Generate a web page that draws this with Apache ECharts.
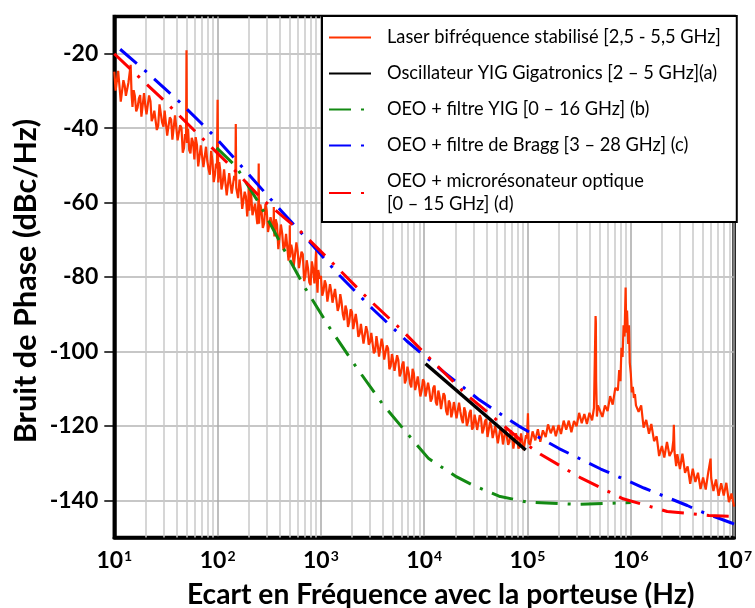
<!DOCTYPE html>
<html><head><meta charset="utf-8">
<script src="https://cdn.jsdelivr.net/npm/echarts@6/dist/echarts.min.js"></script>
<style>html,body{margin:0;padding:0;background:#fff}#c{width:755px;height:608px}</style>
</head><body><div id="c"></div>
<script>
// ---------- DATA ----------
const seriesNames = [
  'Laser bifréquence stabilisé [2,5 - 5,5 GHz]',
  'Oscillateur YIG Gigatronics [2 – 5 GHz](a)',
  'OEO + filtre YIG [0 – 16 GHz] (b)',
  'OEO + filtre de Bragg [3 – 28 GHz] (c)',
  'OEO + microrésonateur optique\n[0 – 15 GHz] (d)'
];
const xTitle = 'Ecart en Fréquence avec la porteuse (Hz)';
const yTitle = 'Bruit de Phase (dBc/Hz)';
const xDecades = [10, 100, 1e3, 1e4, 1e5, 1e6, 1e7];
const minorMultipliers = [2, 3, 4, 5, 6, 7, 8, 9];
const yTickValues = [-140, -120, -100, -80, -60, -40, -20];

// Laser bifréquence stabilisé (measured, noisy) [Hz, dBc/Hz]
const laser = [
 [10,-24.8],[10.3,-29.9],[10.6,-30.4],[10.9,-24.6],[11.2,-28.4],[11.55,-32.9],[11.9,-32.7],[12.25,-27.1],[12.6,-28.5],[12.95,-31.3],
 [13.3,-31.7],[13.7,-27.8],[14.1,-28.3],[14.4,-23],[14.7,-31],[15,-34.3],[15.4,-29.8],[15.8,-31.3],[16.3,-35.5],[16.8,-34.5],
 [17.3,-32],[17.8,-31.1],[18.3,-36.9],[18.8,-37],[19.4,-30.6],[20,-34.2],[20.5,-36.3],[21.1,-36.8],[21.7,-31.2],[22.4,-32.8],
 [23,-38.1],[23.7,-37.1],[24.4,-35.3],[25.1,-34.8],[25.8,-40.5],[26.6,-39.4],[27.4,-33.6],[28.2,-36.1],[29,-38.4],[29.9,-39.6],
 [30.7,-35.3],[31.6,-35],[32.5,-42],[33.5,-39.4],[34.5,-37.1],[35.5,-37.7],[36.5,-43.1],[37.6,-43.3],[38.7,-36.6],[39.8,-39.8],
 [41,-43.3],[42.2,-43.2],[43.4,-39.2],[44.7,-39.9],[46,-46.6],[47.3,-45.3],[48.4,-41.6],[49.5,-42.9],[50,-19.1],[50.5,-44],
 [51.8,-40.2],[53.1,-45.9],[54.6,-46.8],[56.2,-42.6],[57.9,-43.8],[59.6,-48.4],[61.3,-42.4],[63.1,-44.5],[64.9,-50.3],[66.8,-47.6],
 [68.8,-44.6],[70.8,-44.6],[72.9,-50.5],[75,-50.3],[77.2,-45],[79.4,-48.7],[81.7,-51],[84.1,-52.5],[86.6,-46.1],[89.1,-48.7],
 [91.7,-54.5],[94.4,-52.5],[96.4,-49.5],
 [98.5,-50.8],[100,-32.4],[101.5,-54.6],[103.7,-49.1],[106,-51.3],[109,-56.5],[112,-54.8],[115.5,-51.1],[119,-51.3],[122.5,-58.1],
 [126,-57.7],[129.5,-52.1],[133,-54.9],[137,-57.6],[141,-57.9],[144.7,-52.8],[148.5,-54],[150,-38.9],[151.5,-56],[154.7,-55.5],
 [158,-58.8],[163,-53.8],[168,-56.6],[173,-61.7],[178,-61.7],[183,-57.1],[188,-58.4],[193.5,-63.7],[199,-59],[200,-55],
 [203,-62.2],[207,-56.8],[211,-57.4],[217.5,-63.4],[224,-61.8],[230.5,-60.3],[237,-59.9],[242.5,-65.8],[248,-60],[250,-49.5],
 [252,-65.7],[259,-60.5],[266,-62],[274,-66.8],[282,-65.6],[290.5,-60.4],[299,-62.2],[307.5,-67.9],[316,-68.1],[325.5,-63.9],
 [335,-65.7],[349,-66.5],[350,-61.2],[352,-67],[355,-69.1],[365.5,-64.5],[376,-65.9],[387,-72.5],[398,-72.2],[410,-65.9],
 [422,-68.3],[434.5,-72.8],[447,-71.8],[460,-68.4],[473,-68.8],[486,-75.6],[499,-70],[500,-66.1],[502,-74.7],[516,-71.3],
 [531,-73.1],[546,-77],[562,-77.2],[579,-70.7],[596,-73.2],[613,-77.6],[631,-77.3],[649,-73.2],[668,-73.9],[688,-81.1],
 [708,-79.7],[729,-75.5],[750,-77.6],[772,-81.4],[794,-82.2],[817,-75.8],[841,-77.8],[866,-81.7],[891,-81.5],[900,-72.4],
 [910,-80],[927,-84.2],[944,-78.1],[972,-80.4],
 [1000,-79.7],[1030,-85],[1060,-83.7],[1090,-80.9],[1120,-82],[1155,-86.6],[1190,-86.3],[1225,-81.9],[1260,-83.9],[1295,-86.9],
 [1330,-87.3],[1370,-83.2],[1410,-83.7],[1455,-89.1],[1500,-87.7],[1540,-84.6],[1580,-86.4],[1630,-90],[1680,-91.6],[1730,-87.7],
 [1780,-89],[1830,-93.4],[1880,-92.1],[1940,-88.7],[2000,-89.4],[2055,-94],[2110,-94.3],[2175,-89.9],[2240,-92.5],[2305,-96.1],
 [2370,-95.3],[2440,-92.6],[2510,-92.7],[2585,-97.9],[2660,-97.9],[2740,-93.2],[2820,-94.7],[2905,-98.2],[2990,-97.5],[3075,-95],
 [3160,-95.2],[3255,-100.5],[3350,-99.9],[3450,-95.9],[3550,-98.3],[3655,-101.4],[3760,-101.6],[3870,-96.6],[3980,-98.4],[4100,-102.2],
 [4220,-101.8],[4345,-98.4],[4470,-99.2],[4600,-104.8],[4730,-104],[4870,-100.7],[5010,-102.5],[5160,-105.2],[5310,-105.7],[5465,-101],
 [5620,-102.4],[5790,-106.7],[5960,-105.7],[6135,-103.5],[6310,-102.7],[6495,-108.6],[6680,-107.5],[6880,-104.1],[7080,-105.7],[7290,-108.6],
 [7500,-109.7],[7720,-104.7],[7940,-105.9],[8175,-110.4],[8410,-108.8],[8660,-106.7],[8910,-106.7],[9175,-112.1],[9440,-110.6],[9720,-107.5],
 [10000,-108.2],[10300,-112.1],[10600,-112.6],[10900,-108.4],[11200,-110.3],[11550,-113.5],[11900,-112.6],[12250,-109.8],[12600,-109.2],[12950,-113.6],
 [13300,-114.5],[13700,-110.5],[14100,-112.2],[14550,-115.5],[15000,-115.1],[15400,-111.2],[15800,-111.9],[16300,-116],[16800,-117.1],[17300,-113.2],
 [17800,-114],[18300,-117.7],[18800,-116.2],[19400,-113.6],[20000,-113.5],[20550,-118],[21100,-118],[21750,-113.8],[22400,-116.2],[23050,-118.2],
 [23700,-119.3],[24400,-115],[25100,-116.2],[25850,-120],[26600,-118.9],[27400,-116.6],[28200,-115.7],[29050,-121],[29900,-120.3],[30750,-117],
 [31600,-118.7],[32550,-121.1],[33500,-121.6],[34500,-117.1],[35500,-118],[36550,-122],[37600,-120.9],[38700,-118.8],[39800,-118.2],[41000,-123],
 [42200,-123.5],[43450,-118.9],[44700,-120.3],[46000,-123.3],[47300,-123],[48700,-120],[50100,-120.4],[51600,-124.7],[53100,-124.6],[54650,-120.5],
 [56200,-121.8],[57900,-125],[59600,-124.6],[61350,-120.7],[63100,-120.4],[64950,-125.1],[66800,-124.3],[68800,-121.2],[70800,-122.2],[72900,-126.1],
 [75000,-126.3],[77200,-122],[79400,-123.3],[81700,-126.1],[84100,-125.5],[86600,-122],[89100,-121.9],[91700,-126.5],[94400,-126.1],[96700,-122.5],
 [99000,-123.4],[101000,-116.6],[102500,-124.5],[106000,-125.1],[112000,-121.5],[119000,-123.9],[126000,-120.9],[133000,-124.3],[141000,-121.2],[150000,-123],
 [158000,-119.6],[168000,-122],[178000,-120],[188000,-122.8],[200000,-119.8],[211000,-122.2],[224000,-118.6],[237000,-121],[251000,-118.6],[266000,-121.7],
 [282000,-118.7],[299000,-120.1],[316000,-116.5],[335000,-119.3],[355000,-116.8],[376000,-119.5],[398000,-116.5],[422000,-118.5],[440000,-115.2],[453000,-115],
 [456000,-90.5],[459000,-92],[462000,-108],[466000,-113],[470000,-117.5],[480000,-114.5],[501000,-114.7],[531000,-117.6],[562000,-114.5],[596000,-116],
 [631000,-112],[668000,-114.3],[708000,-109.8],[750000,-110.5],[772000,-105],[794000,-108],[812000,-99],[832000,-101.5],[851000,-93],[870000,-96],
 [891000,-82.8],[905000,-95],[920000,-89],[944000,-98],[960000,-93],[977000,-103],
 [1000000,-106],[1023000,-111],[1047000,-109.5],[1072000,-112.5],[1096000,-111.5],[1122000,-114.5],[1190000,-116.2],[1260000,-114.5],[1330000,-120.5],[1410000,-118.4],
 [1500000,-122.1],[1580000,-119.5],[1680000,-124.1],[1780000,-122.8],[1880000,-128.1],[2000000,-125.4],[2110000,-128.5],[2240000,-124.3],[2370000,-128.1],[2510000,-126.7],
 [2580000,-124],[2610000,-119.7],[2650000,-127],[2750000,-130.8],[2820000,-127.6],[2990000,-131.6],[3160000,-127.5],[3350000,-132.6],[3550000,-130.9],[3760000,-135.6],
 [3980000,-131.5],[4220000,-135.1],[4470000,-132.6],[4730000,-137],[5010000,-133.9],[5310000,-137.1],[5620000,-132.5],[5850000,-133],[5920000,-128.8],[6000000,-134],
 [6310000,-137.5],[6680000,-134.4],[7080000,-138.8],[7500000,-135.4],[7940000,-138.7],[8410000,-135.3],[8910000,-140.5],[9440000,-138.2],[10000000,-141.7]
];
// (a) Oscillateur YIG Gigatronics
const yigGigatronics = [[10300,-103.3],[96000,-126.5]];
// (b) OEO + filtre YIG
const oeoYig = [[98,-45.3],[150,-50.2],[256,-60.5],[424,-71.8],[697,-82.8],[1213,-93.6],[2198,-104.2],[3970,-114.2],
  [7740,-123.8],[11050,-128.8],[20000,-133.5],[30000,-136],[53000,-138.9],[100000,-140.5],[300000,-141.1],[1000000,-140.6]];
// (c) OEO + filtre de Bragg
const oeoBragg = [[11.4,-18.8],[20.5,-24.9],[43.8,-33.2],[92.5,-42.1],[190,-51.7],[376,-61],[766,-70.4],[1517,-79.6],
  [3177,-88.6],[6776,-97.2],[15100,-105.3],[34100,-113],[81800,-120],[101700,-121.5],[202000,-126.1],[512000,-131.6],
  [1340000,-136.7],[3520000,-141.4],[4430000,-142.7],[9440000,-146.1],[10000000,-146.4]];
// (d) OEO + microrésonateur optique
const oeoMicro = [[10,-20],[14.7,-24.4],[30.9,-32.8],[65.8,-41.8],[136,-50.4],[265,-58.9],[622,-67.5],[1327,-76.5],
  [2780,-85.5],[5980,-94.1],[12560,-103.1],[25400,-111.5],[89500,-124.2],[135000,-127.7],[328000,-134],[841000,-139.6],
  [2250000,-143],[5700000,-144.1],[10000000,-144.3]];

// ---------- HELPERS ----------
const minorGrid = [];
xDecades.slice(0, -1).forEach(d => minorMultipliers.forEach(m => minorGrid.push(m * d)));
function fitSize(text, weight, family, target) {
  const ctx = document.createElement('canvas').getContext('2d');
  ctx.font = weight + ' 100px ' + family;
  return 100 * target / ctx.measureText(text).width;
}
const FONT = 'Lato';
const xTitleSize = fitSize(xTitle, 'bold', FONT, 508);
const yTitleSize = fitSize(yTitle, 'bold', FONT, 325);
const legendSize = fitSize(seriesNames[0], 'normal', FONT, 334);
const dashDot = [22, 10, 3, 10];

const chart = echarts.init(document.getElementById('c'), null, {renderer: 'canvas'});
chart.setOption({
  animation: false,
  backgroundColor: '#fff',
  grid: {left: 114.3, top: 16.5, width: 621.5, height: 521, show: true, borderColor: '#000', borderWidth: 3.5, backgroundColor: 'transparent'},
  xAxis: {
    type: 'log', logBase: 10, min: 10, max: 1e7,
    axisLine: {show: true, lineStyle: {color: '#000', width: 3.5}},
    axisTick: {show: false},
    splitLine: {show: true, lineStyle: {color: '#a8a8a8', width: 1.5}},
    axisLabel: {
      show: true, margin: 9, showMinLabel: true, showMaxLabel: true,
      formatter: v => '{b|10}{s|' + Math.round(Math.log10(v)) + '}',
      rich: {
        b: {fontFamily: FONT, fontWeight: 'bold', fontSize: 23, color: '#000', verticalAlign: 'bottom', lineHeight: 26},
        s: {fontFamily: FONT, fontWeight: 'bold', fontSize: 14, color: '#000', verticalAlign: 'bottom', lineHeight: 26, padding: [0, 0, 9, 1]}
      }
    }
  },
  yAxis: {
    type: 'value', min: -150, max: -10, interval: 10,
    axisLine: {show: true, lineStyle: {color: '#000', width: 3.5}},
    axisTick: {show: true, customValues: yTickValues, length: 10, lineStyle: {color: '#000', width: 1.5}},
    axisLabel: {show: true, customValues: yTickValues, margin: 16, fontFamily: FONT, fontWeight: 'bold', fontSize: 23, color: '#000'},
    splitLine: {show: true, lineStyle: {color: '#b4b4b4', width: 1.5}}
  },
  legend: {
    show: true, orient: 'vertical', left: 322, top: 16,
    padding: [10, 16, 6, 6], itemWidth: 42, itemHeight: 14, itemGap: 13,
    backgroundColor: '#fff', borderColor: '#000', borderWidth: 2, borderRadius: 0,
    selectedMode: false,
    itemStyle: {opacity: 0},
    textStyle: {fontFamily: FONT, fontSize: legendSize, color: '#000', lineHeight: 23, padding: [0, 0, 0, 11]},
    data: seriesNames
  },
  series: [
    {name: seriesNames[0], type: 'line', data: laser, symbol: 'none', z: 2,
     lineStyle: {color: '#ff3300', width: 2.2}, itemStyle: {color: '#ff3300'},
     markLine: {silent: true, z: 1, symbol: ['none', 'none'], animation: false, label: {show: false},
       lineStyle: {color: '#c8c8c8', width: 1.5, type: 'solid'}, emphasis: {disabled: true},
       data: minorGrid.map(v => ({xAxis: v}))}},
    {name: seriesNames[1], type: 'line', data: yigGigatronics, symbol: 'none', z: 3,
     lineStyle: {color: '#000', width: 3.5}, itemStyle: {color: '#000'}},
    {name: seriesNames[2], type: 'line', data: oeoYig, symbol: 'none', z: 3,
     lineStyle: {color: '#138a13', width: 3, type: dashDot}, itemStyle: {color: '#138a13'}},
    {name: seriesNames[3], type: 'line', data: oeoBragg, symbol: 'none', z: 3,
     lineStyle: {color: '#0000ff', width: 3, type: dashDot}, itemStyle: {color: '#0000ff'}},
    {name: seriesNames[4], type: 'line', data: oeoMicro, symbol: 'none', z: 3,
     lineStyle: {color: '#ff0000', width: 3, type: dashDot}, itemStyle: {color: '#ff0000'}}
  ],
  graphic: [
    {type: 'text', x: 187, y: 595, silent: true,
     style: {text: xTitle, fill: '#000', font: 'bold ' + xTitleSize.toFixed(1) + 'px ' + FONT, align: 'left', verticalAlign: 'middle'}},
    {type: 'text', x: 26, y: 281, rotation: Math.PI / 2, silent: true,
     style: {text: yTitle, fill: '#000', font: 'bold ' + yTitleSize.toFixed(1) + 'px ' + FONT, align: 'center', verticalAlign: 'middle'}}
  ]
});
</script></body></html>
